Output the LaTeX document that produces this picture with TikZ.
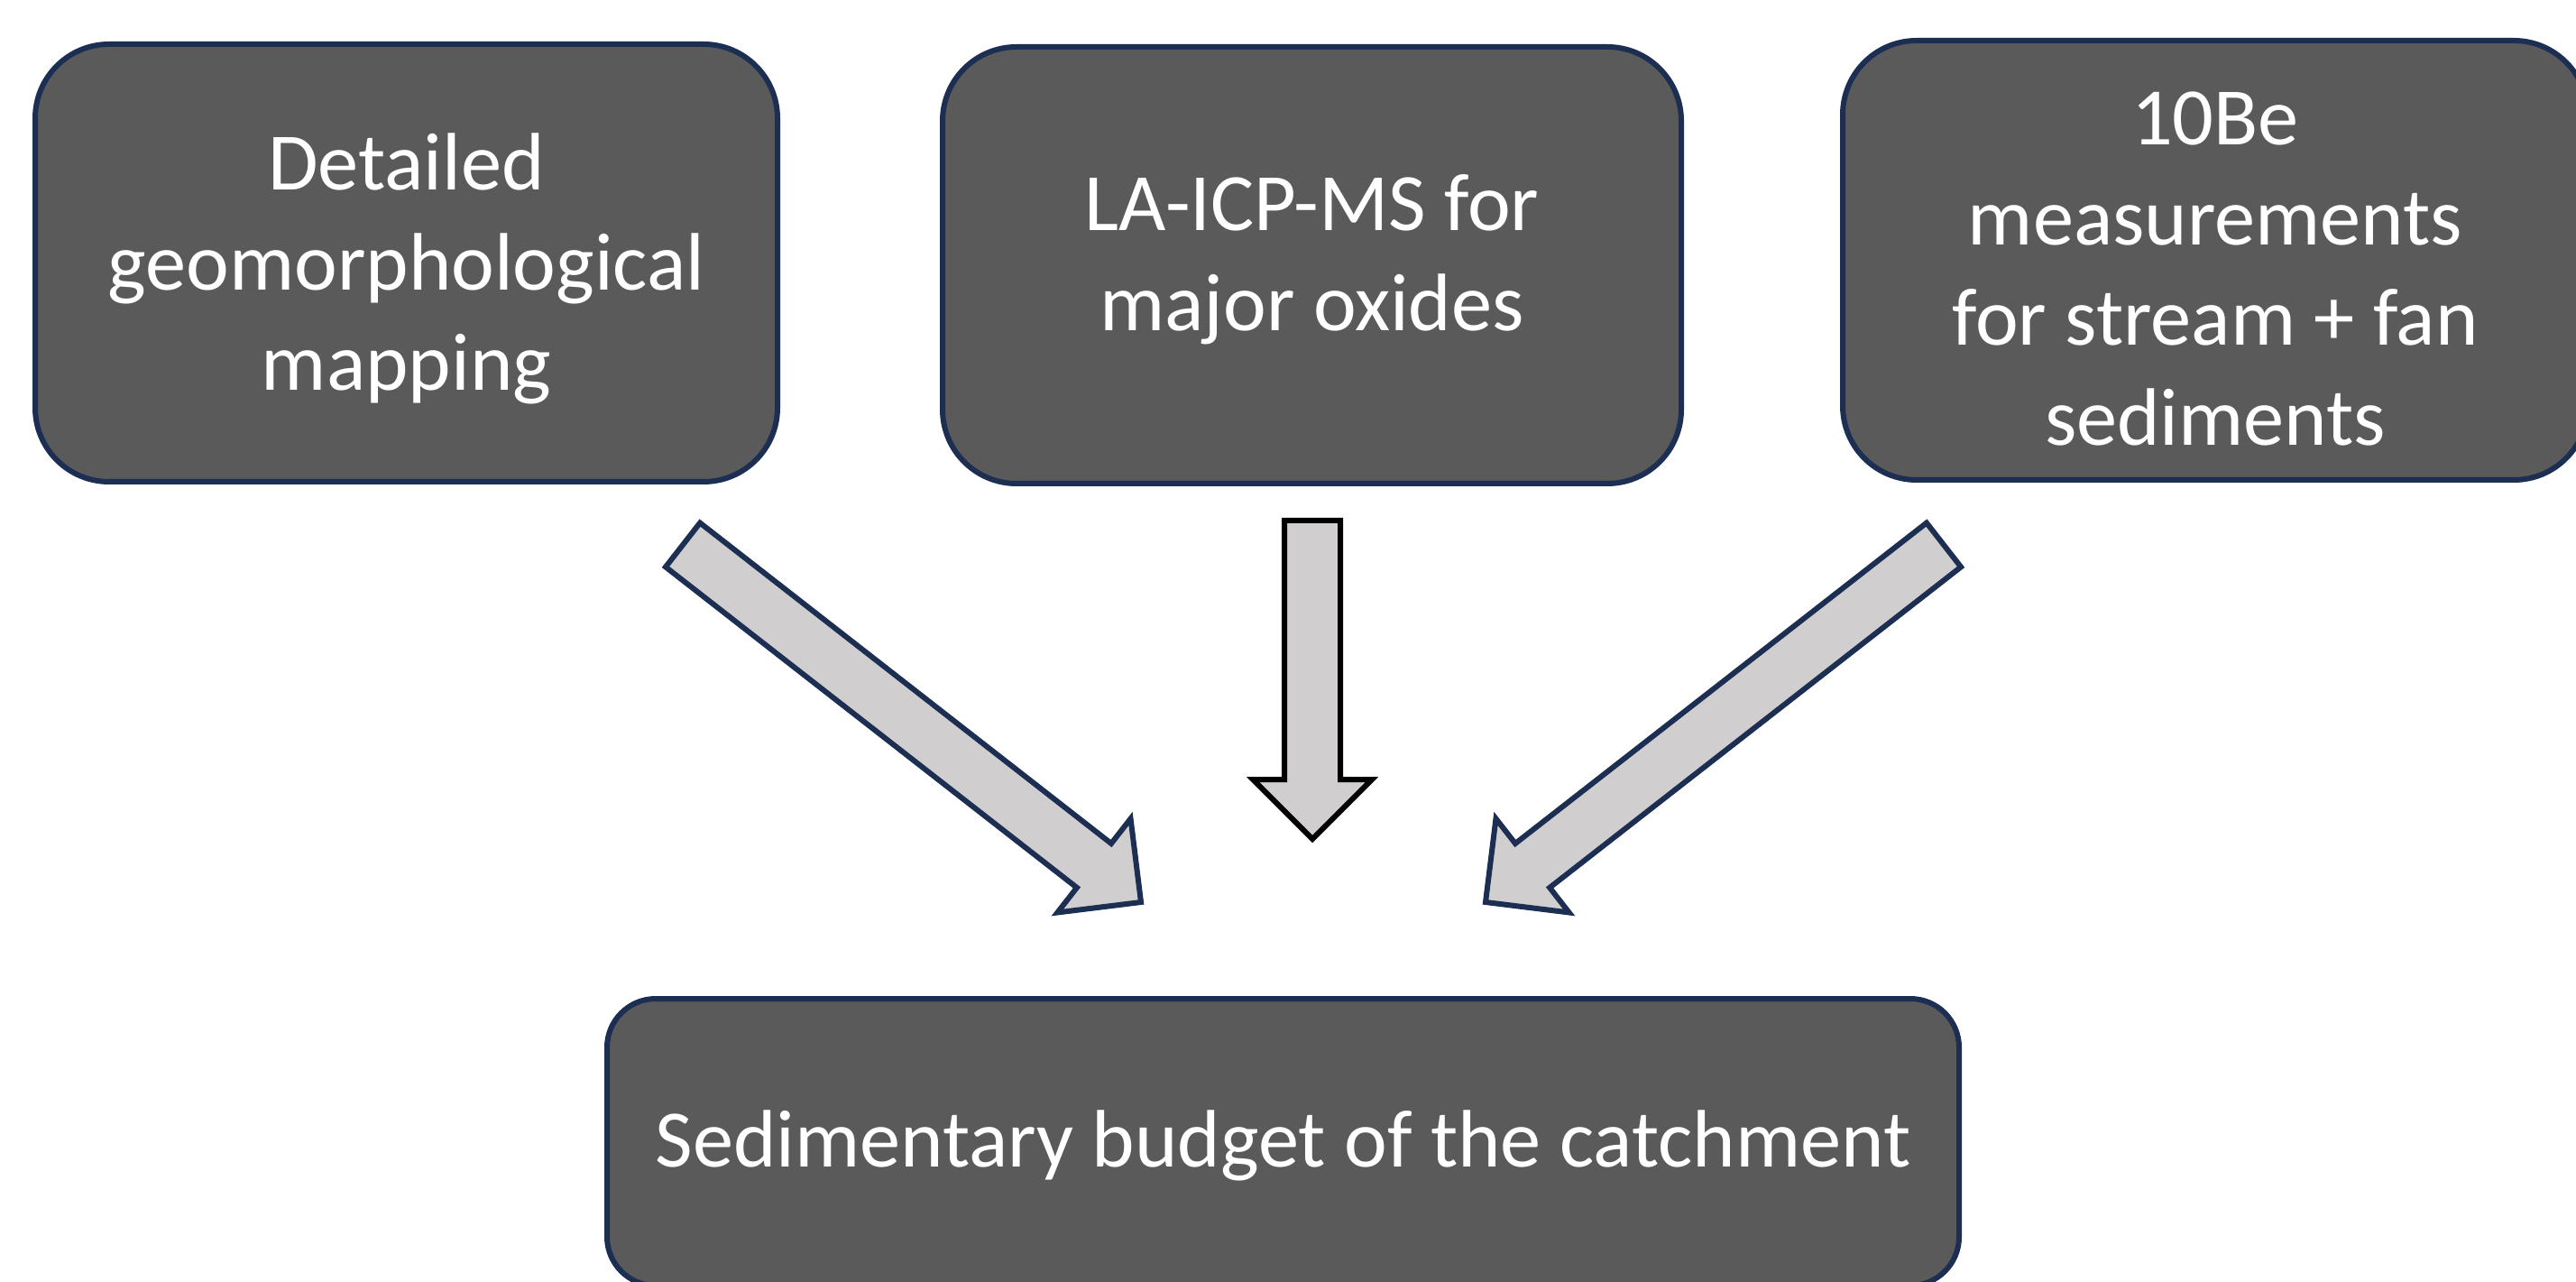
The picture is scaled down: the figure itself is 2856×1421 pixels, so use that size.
\documentclass[tikz,border=0pt]{standalone}
\usepackage{fontspec}
\setmainfont{Carlito}
\usetikzlibrary{calc}

\definecolor{boxfill}{HTML}{5A5A5A}
\definecolor{navy}{HTML}{1C2E52}
\definecolor{arrowfill}{HTML}{D0CECE}

% block arrow from tail coordinate #1 to tip coordinate #2, outline colour #3
\newcommand\blockarrow[3]{%
  \coordinate (#1hb) at ($(#2)!16.5pt!(#1)$);
  \draw[flowarrow, draw=#3]
    ($(#1)!7.75pt!90:(#2)$) --
    ($(#1hb)!7.75pt!90:(#2)$) --
    ($(#1hb)!16.5pt!90:(#2)$) --
    (#2) --
    ($(#1hb)!16.5pt!-90:(#2)$) --
    ($(#1hb)!7.75pt!-90:(#2)$) --
    ($(#1)!7.75pt!-90:(#2)$) -- cycle;
}

\begin{document}
\begin{tikzpicture}[x=0.25pt, y=-0.25pt,
  stepbox/.style={draw=navy, fill=boxfill, line width=1.5pt,
    rounded corners=20.5pt, inner sep=0pt},
  boxtext/.style={text=white, align=center, inner sep=0pt,
    font=\fontsize{22.6pt}{27.75pt}\selectfont},
  flowarrow/.style={fill=arrowfill, line width=1.5pt, line join=miter}]

\useasboundingbox (0,0) rectangle (2856,1421);

% input methods
\node[stepbox, minimum width=205.75pt, minimum height=121.25pt] (b1) at (450.5,291.5) {};
\node[stepbox, minimum width=204.75pt, minimum height=121pt] (b2) at (1454.5,294) {};
\node[stepbox, minimum width=206.5pt, minimum height=121.75pt] (b3) at (2456,288.5) {};

\node[boxtext] (t1) at ([yshift=-1.5pt]b1.center) {Detailed\\geomorphological\\mapping};
\node[boxtext] (t2) at ([yshift=1.5pt]b2.center) {LA-ICP-MS for\\major oxides};
\node[boxtext] (t3) at ([yshift=-2.5pt]b3.center) {10Be\\measurements\\for stream + fan\\sediments};

% result
\node[stepbox, rounded corners=13.5pt, minimum width=374.75pt, minimum height=79.5pt] (b4) at (1422.5,1266) {};
\node[boxtext] (t4) at ([yshift=-1pt]b4.center) {Sedimentary budget of the catchment};

% arrows
\coordinate (la) at (757,604);   \coordinate (lb) at (1265,1000);
\coordinate (ma) at (1455,577);  \coordinate (mb) at (1455,930);
\coordinate (ra) at (2155,604);  \coordinate (rb) at (1647,1000);
\blockarrow{la}{lb}{navy}
\blockarrow{ma}{mb}{black}
\blockarrow{ra}{rb}{navy}

\end{tikzpicture}
\end{document}
